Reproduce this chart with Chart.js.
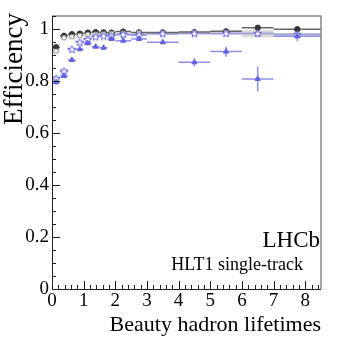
<!DOCTYPE html>
<html>
<head>
<meta charset="utf-8">
<script src="https://cdn.jsdelivr.net/npm/chart.js@4.4.1/dist/chart.umd.min.js"></script>
<style>
  html, body { margin: 0; padding: 0; background: #fff; }
  #wrap { width: 349px; height: 338px; }
</style>
</head>
<body>
<div id="wrap"><canvas id="chart" width="349" height="338"></canvas></div>
<script>
// bins in units of the beauty hadron lifetime
const binCenter = [0.13, 0.38, 0.63, 0.88, 1.13, 1.38, 1.63, 1.88, 2.25, 2.75, 3.5, 4.5, 5.5, 6.5, 7.75];
const binLow    = [0, 0.25, 0.5, 0.75, 1.0, 1.25, 1.5, 1.75, 2.0, 2.5, 3.0, 4.0, 5.0, 6.0, 7.0];
const binHigh   = [0.25, 0.5, 0.75, 1.0, 1.25, 1.5, 1.75, 2.0, 2.5, 3.0, 4.0, 5.0, 6.0, 7.0, 8.5];

// black filled circles
const effBlack    = [0.930, 0.974, 0.980, 0.982, 0.986, 0.988, 0.987, 0.986, 0.990, 0.987, 0.987, 0.988, 0.991, 1.005, 0.999];
const effBlackErr = [0.004, 0.003, 0.002, 0.002, 0.002, 0.002, 0.002, 0.002, 0.002, 0.002, 0.002, 0.002, 0.003, 0.004, 0.004];
// grey open squares (with boxes)
const effGrey     = [0.915, 0.966, 0.970, 0.975, 0.978, 0.980, 0.981, 0.982, 0.984, 0.985, 0.985, 0.986, 0.987, 0.982, 0.980];
const effGreyErr  = [0.004, 0.004, 0.004, 0.003, 0.003, 0.003, 0.003, 0.003, 0.003, 0.003, 0.003, 0.004, 0.005, 0.014, 0.004];
// blue open stars
const effStar     = [0.810, 0.838, 0.922, 0.949, 0.960, 0.970, 0.973, 0.973, 0.979, 0.977, 0.982, 0.983, 0.983, 0.983, 0.979];
const effStarErr  = [0.008, 0.007, 0.005, 0.004, 0.004, 0.004, 0.004, 0.004, 0.003, 0.003, 0.003, 0.004, 0.005, 0.006, 0.006];
// blue filled triangles
const effTri      = [0.795, 0.819, 0.881, 0.922, 0.945, 0.932, 0.928, 0.962, 0.955, 0.962, 0.949, 0.872, 0.913, 0.808, 0.972];
const effTriErr   = [0.008, 0.007, 0.006, 0.005, 0.005, 0.005, 0.005, 0.005, 0.005, 0.005, 0.006, 0.016, 0.020, 0.048, 0.018];

const xTickValues = [0, 1, 2, 3, 4, 5, 6, 7, 8];
const yTickValues = [0, 0.2, 0.4, 0.6, 0.8, 1];

const serif = '"Liberation Serif", "DejaVu Serif", serif';
const blue = 'rgb(95,95,225)';

const pts = (ys) => ys.map((v, i) => ({ x: binCenter[i], y: v }));

// open five-point star marker
const starImg = (() => {
    const c = document.createElement('canvas');
    c.width = 9; c.height = 9;
    const g = c.getContext('2d');
    g.beginPath();
    for (let i = 0; i < 10; i++) {
        const r = i % 2 === 0 ? 4 : 1.8;
        const a = -Math.PI / 2 + i * Math.PI / 5;
        const px = 4.5 + r * Math.cos(a), py = 4.8 + r * Math.sin(a);
        if (i === 0) g.moveTo(px, py); else g.lineTo(px, py);
    }
    g.closePath();
    g.fillStyle = '#fff';
    g.fill();
    g.strokeStyle = blue;
    g.lineWidth = 1;
    g.stroke();
    return c;
})();

// error bars and boxes, drawn under the markers
const errorBars = {
    id: 'errorBars',
    beforeDatasetsDraw(chart) {
        const { ctx, scales: { x, y } } = chart;
        ctx.save();
        chart.data.datasets.forEach(ds => {
            ds.data.forEach((p, i) => {
                const x0 = x.getPixelForValue(binLow[i]);
                const x1 = x.getPixelForValue(binHigh[i]);
                const xc = x.getPixelForValue(p.x);
                const yc = y.getPixelForValue(p.y);
                const ylo = y.getPixelForValue(p.y - ds.yErr[i]);
                const yhi = y.getPixelForValue(p.y + ds.yErr[i]);
                if (ds.boxColor) {
                    ctx.fillStyle = ds.boxColor;
                    ctx.fillRect(x0, yhi, x1 - x0, Math.max(ylo - yhi, 2));
                }
                if (ds.barColor) {
                    ctx.strokeStyle = ds.barColor;
                    ctx.lineWidth = ds.barWidth || 1;
                    ctx.beginPath();
                    ctx.moveTo(x0, yc); ctx.lineTo(x1, yc);
                    ctx.moveTo(xc, ylo); ctx.lineTo(xc, yhi);
                    ctx.stroke();
                }
            });
        });
        ctx.restore();
    }
};

// ROOT-like frame, inward ticks and labels
const frame = {
    id: 'frame',
    afterDraw(chart) {
        const { ctx, chartArea: a, scales: { x, y } } = chart;
        ctx.save();
        ctx.lineWidth = 1.5;
        ctx.strokeStyle = '#888';
        ctx.beginPath();
        ctx.moveTo(a.left, a.top); ctx.lineTo(a.right, a.top); ctx.lineTo(a.right, a.bottom);
        ctx.stroke();

        ctx.strokeStyle = '#222';
        ctx.lineWidth = 1;
        ctx.beginPath();
        ctx.moveTo(a.left + 0.5, a.top); ctx.lineTo(a.left + 0.5, a.bottom + 0.5); ctx.lineTo(a.right, a.bottom + 0.5);
        // x ticks every 0.2, major every 1
        for (let k = 0; k <= 42; k++) {
            const v = k * 0.2;
            const px = Math.round(x.getPixelForValue(v)) + 0.5;
            const len = k % 5 === 0 ? 8 : 4;
            ctx.moveTo(px, a.bottom); ctx.lineTo(px, a.bottom - len);
        }
        // y ticks every 0.05, major every 0.2
        for (let k = 0; k <= 21; k++) {
            const v = k * 0.05;
            const py = Math.round(y.getPixelForValue(v)) + 0.5;
            const len = k % 4 === 0 ? 8 : 4;
            ctx.moveTo(a.left, py); ctx.lineTo(a.left + len, py);
        }
        ctx.stroke();

        ctx.fillStyle = '#000';
        ctx.textAlign = 'right';
        ctx.textBaseline = 'alphabetic';
        ctx.font = `23px ${serif}`;
        ctx.fillText('LHCb', 320, 247);
        ctx.font = `18px ${serif}`;
        ctx.fillText('HLT1 single-track', 303, 270);
        ctx.font = `22px ${serif}`;
        ctx.fillText('Beauty hadron lifetimes', 321, 331);

        ctx.translate(22, 13);
        ctx.rotate(-Math.PI / 2);
        ctx.font = `27px ${serif}`;
        ctx.fillText('Efficiency', 0, 0);
        ctx.restore();
    }
};

new Chart(document.getElementById('chart'), {
    type: 'scatter',
    data: {
        datasets: [
            {
                label: 'triangles', data: pts(effTri), yErr: effTriErr,
                barColor: 'rgba(95,95,225,0.7)', barWidth: 1.5,
                pointStyle: 'triangle', pointRadius: 3,
                backgroundColor: blue, borderColor: blue, borderWidth: 1
            },
            {
                label: 'stars', data: pts(effStar), yErr: effStarErr,
                barColor: 'rgba(95,95,225,0.7)', barWidth: 1.5,
                boxColor: 'rgba(170,170,235,0.4)',
                pointStyle: starImg, pointRadius: 4
            },
            {
                label: 'grey', data: pts(effGrey), yErr: effGreyErr,
                boxColor: 'rgba(190,190,190,0.55)',
                pointStyle: 'rect', pointRadius: 2.8,
                backgroundColor: '#fff', borderColor: '#999', borderWidth: 1
            },
            {
                label: 'black', data: pts(effBlack), yErr: effBlackErr,
                barColor: '#666', barWidth: 1.5,
                pointStyle: 'circle', pointRadius: 2.7,
                backgroundColor: '#333', borderColor: '#333', borderWidth: 1
            }
        ]
    },
    options: {
        responsive: false,
        animation: false,
        devicePixelRatio: 1,
        layout: { padding: { top: 16, right: 28, left: 0, bottom: 0 } },
        plugins: { legend: { display: false }, tooltip: { enabled: false } },
        scales: {
            x: {
                type: 'linear', min: 0, max: 8.5,
                afterFit: s => { s.height = 49; },
                afterBuildTicks: s => { s.ticks = xTickValues.map(v => ({ value: v })); },
                grid: { display: false, drawTicks: false },
                border: { display: false },
                ticks: { color: '#000', padding: 1, font: { family: serif, size: 19 }, maxRotation: 0, callback: v => String(v) }
            },
            y: {
                type: 'linear', min: 0, max: 1.05,
                afterFit: s => { s.width = 52; },
                afterBuildTicks: s => { s.ticks = yTickValues.map(v => ({ value: v })); },
                grid: { display: false, drawTicks: false },
                border: { display: false },
                ticks: { color: '#000', padding: 3, font: { family: serif, size: 19 }, callback: v => String(+v.toFixed(2)) }
            }
        }
    },
    plugins: [errorBars, frame]
});
</script>
</body>
</html>
